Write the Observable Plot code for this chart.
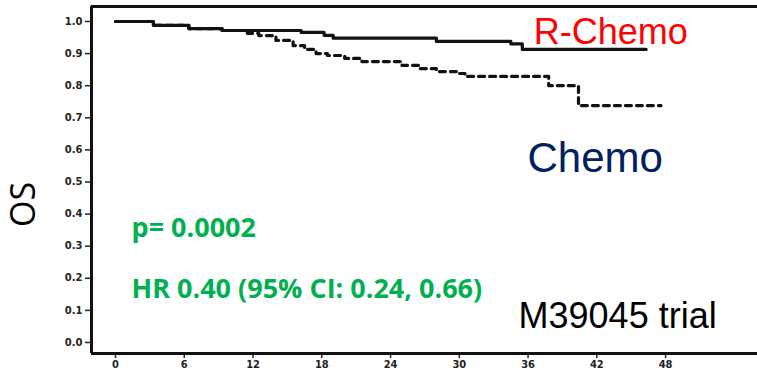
<!DOCTYPE html>
<html>
<head>
<meta charset="utf-8">
<script src="https://cdn.jsdelivr.net/npm/d3@7"></script>
<script src="https://cdn.jsdelivr.net/npm/@observablehq/plot@0.6"></script>
<style>
  html, body { margin: 0; padding: 0; background: #fff; }
  #chart svg { display: block; }
</style>
</head>
<body>
<div id="chart"></div>
<script>
// Kaplan–Meier overall survival, M39045 trial
const rchemoMonths = [0, 3.3, 6.4, 9.3, 16.2, 18.2, 19.0, 28.0, 34.5, 35.5, 46.3];
const rchemoOS     = [1.0, 0.988, 0.978, 0.972, 0.966, 0.957, 0.948, 0.938, 0.930, 0.913, 0.913];

const chemoMonths = [0, 3.3, 6.4, 9.3, 11.5, 12.5, 14.0, 15.5, 16.5, 17.5, 18.5, 20.0, 21.5, 25.0, 26.5, 28.0, 30.0, 30.5, 37.8, 40.4, 47.6];
const chemoOS     = [1.0, 0.988, 0.978, 0.972, 0.963, 0.956, 0.941, 0.925, 0.913, 0.900, 0.894, 0.885, 0.875, 0.863, 0.853, 0.844, 0.838, 0.829, 0.800, 0.738, 0.738];

const xTicks = [0, 6, 12, 18, 24, 30, 36, 42, 48];
const yTicks = [0.0, 0.1, 0.2, 0.3, 0.4, 0.5, 0.6, 0.7, 0.8, 0.9, 1.0];

const yLabel = "OS";
const seriesLabels = ["R-Chemo", "Chemo"];
const pText = "p= 0.0002";
const hrText = "HR 0.40 (95% CI: 0.24, 0.66)";
const trialText = "M39045 trial";

const rchemo = rchemoMonths.map((t, i) => ({t, s: rchemoOS[i]}));
const chemo = chemoMonths.map((t, i) => ({t, s: chemoOS[i]}));

const xDomain = [-2.094, 56.02];
const yDomain = [-0.0343, 1.0467];

const sans = "'Liberation Sans', Arial, sans-serif";
const green = "'Open Sans', 'Noto Sans', sans-serif";

const chart = Plot.plot({
  width: 757,
  height: 375,
  marginLeft: 91,
  marginRight: 0,
  marginTop: 6,
  marginBottom: 22,
  style: {background: "#fff", color: "#222"},
  x: {domain: xDomain},
  y: {domain: yDomain},
  marks: [
    Plot.axisY({ticks: yTicks, tickFormat: d3.format(".1f"), tickSize: 6, tickPadding: 3,
      fontSize: 10, fontWeight: "bold", fontFamily: "'DejaVu Sans', sans-serif", label: null, stroke: "#222", strokeWidth: 1.5}),
    Plot.axisX({ticks: xTicks, tickSize: 5, tickPadding: 2,
      fontSize: 11, fontWeight: "bold", fontFamily: "'DejaVu Sans Condensed', 'DejaVu Sans', sans-serif", label: null, stroke: "#222", strokeWidth: 1.5}),
    Plot.ruleX([xDomain[0]], {stroke: "#111", strokeWidth: 3}),
    Plot.ruleY([yDomain[1]], {stroke: "#111", strokeWidth: 3}),
    Plot.ruleY([yDomain[0]], {stroke: "#111", strokeWidth: 3}),
    Plot.line(chemo, {x: "t", y: "s", curve: "step-after", stroke: "#111", strokeWidth: 3.2, strokeDasharray: "6,5"}),
    Plot.line(rchemo, {x: "t", y: "s", curve: "step-after", stroke: "#111", strokeWidth: 3.2}),
    Plot.text([seriesLabels[0]], {x: 36.5, y: 0.931, text: d => d, textAnchor: "start", lineAnchor: "bottom",
      fill: "#FF0000", fontSize: 36, fontFamily: sans}),
    Plot.text([seriesLabels[1]], {x: 35.95, y: 0.530, text: d => d, textAnchor: "start", lineAnchor: "bottom",
      fill: "#002060", fontSize: 42, fontFamily: sans}),
    Plot.text([trialText], {x: 35.17, y: 0.0436, text: d => d, textAnchor: "start", lineAnchor: "bottom",
      fill: "#000", fontSize: 36, fontFamily: sans}),
    Plot.text([pText], {x: 1.40, y: 0.330, text: d => d, textAnchor: "start", lineAnchor: "bottom",
      fill: "#00B050", fontSize: 27, fontWeight: "bold", fontFamily: green}),
    Plot.text([hrText], {x: 1.40, y: 0.140, text: d => d, textAnchor: "start", lineAnchor: "bottom",
      fill: "#00B050", fontSize: 27, fontWeight: "bold", fontFamily: green}),
    Plot.text([yLabel], {x: -8.0, y: 0.43, text: d => d, rotate: -90, textAnchor: "middle", lineAnchor: "middle",
      fill: "#000", fontSize: 34, fontFamily: "'Open Sans', sans-serif"})
  ]
});
document.getElementById("chart").appendChild(chart);
</script>
</body>
</html>
